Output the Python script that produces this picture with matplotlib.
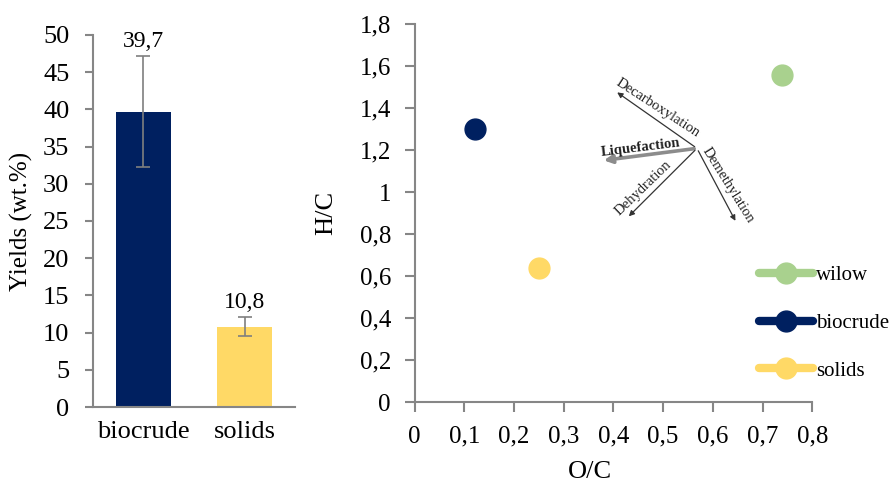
import matplotlib
matplotlib.use("Agg")
import matplotlib.pyplot as plt
from matplotlib.ticker import FuncFormatter, MultipleLocator
from matplotlib.lines import Line2D

# yields (wt.%) with standard deviation
products = ["biocrude", "solids"]
yields = [39.7, 10.8]
yield_err = [7.5, 1.3]

# van Krevelen points
samples = ["wilow", "biocrude", "solids"]
oc_ratio = [0.74, 0.121, 0.25]
hc_ratio = [1.555, 1.30, 0.64]

# reaction pathway arrows (start and end in O/C, H/C units)
path_origin = (0.568, 1.208)
path_names = ["Decarboxylation", "Liquefaction", "Dehydration", "Demethylation"]
path_ends = [(0.403, 1.482), (0.375, 1.149), (0.427, 0.875), (0.648, 0.851)]
path_text_xy = [(0.490, 1.40), (0.454, 1.21), (0.460, 1.019), (0.631, 1.033)]
path_text_rot = [-33, 7, 44, -58]

colors = {"wilow": "#A9D18E", "biocrude": "#002060", "solids": "#FFD966"}
axis_grey = "#868686"

plt.rcParams["font.family"] = ["Liberation Serif", "DejaVu Serif"]


def comma(v, pos):
    return f"{v:g}".replace(".", ",")


fig = plt.figure(figsize=(8.94, 4.84), dpi=100)

# --- yields bar chart ---
ax1 = fig.add_axes([0.104, 0.159, 0.226, 0.769])
xpos = range(len(products))
ax1.bar(xpos, yields, width=0.55, color=[colors[p] for p in products])
ax1.errorbar(xpos, yields, yerr=yield_err, fmt="none", ecolor="#7f7f7f",
             elinewidth=1.2, capsize=5, capthick=1.2)
for x, v, e in zip(xpos, yields, yield_err):
    ax1.annotate(comma(v, None), (x, v + e), xytext=(0, 3),
                 textcoords="offset points", ha="center", va="bottom", fontsize=17)
ax1.set_xlim(-0.5, 1.5)
ax1.set_ylim(0, 50)
ax1.yaxis.set_major_locator(MultipleLocator(5))
ax1.set_xticks(list(xpos))
ax1.set_xticklabels(products)
ax1.tick_params(axis="x", length=0, labelsize=19, pad=10)
ax1.tick_params(axis="y", length=6, width=1.5, color=axis_grey, labelsize=19, pad=11)
ax1.set_ylabel("Yields (wt.%)", fontsize=18)
ax1.yaxis.set_label_coords(-0.297, 0.5)
for s in ["top", "right"]:
    ax1.spines[s].set_visible(False)
for s in ["left", "bottom"]:
    ax1.spines[s].set_color(axis_grey)
    ax1.spines[s].set_linewidth(1.5)

# --- van Krevelen diagram ---
ax2 = fig.add_axes([0.4637, 0.1694, 0.4449, 0.781])
for name, ox, hy in zip(samples, oc_ratio, hc_ratio):
    ax2.plot(ox, hy, "o", ms=15, color=colors[name], zorder=3)

for name, end, txy, rot in zip(path_names, path_ends, path_text_xy, path_text_rot):
    if name == "Liquefaction":
        props = dict(arrowstyle="-|>", color="#8c8c8c", lw=2.6, mutation_scale=12)
        weight = "bold"
    else:
        props = dict(arrowstyle="-|>", color="#333333", lw=0.9, mutation_scale=8)
        weight = "normal"
    ax2.annotate("", xy=end, xytext=path_origin, arrowprops=props)
    ax2.text(txy[0], txy[1], name, rotation=rot, rotation_mode="anchor",
             ha="center", va="center", fontsize=10.5, fontweight=weight,
             color="#222222")

ax2.set_xlim(0, 0.8)
ax2.set_ylim(0, 1.8)
ax2.xaxis.set_major_locator(MultipleLocator(0.1))
ax2.yaxis.set_major_locator(MultipleLocator(0.2))
ax2.xaxis.set_major_formatter(FuncFormatter(comma))
ax2.yaxis.set_major_formatter(FuncFormatter(comma))
ax2.tick_params(length=7, width=1.5, color=axis_grey, labelsize=18, pad=10)
ax2.set_xlabel("O/C", fontsize=19)
ax2.set_ylabel("H/C", fontsize=19)
ax2.xaxis.set_label_coords(0.44, -0.155)
ax2.yaxis.set_label_coords(-0.195, 0.5)
for s in ["top", "right"]:
    ax2.spines[s].set_visible(False)
for s in ["left", "bottom"]:
    ax2.spines[s].set_color(axis_grey)
    ax2.spines[s].set_linewidth(1.5)

handles = [Line2D([], [], color=colors[n], lw=6, marker="o", ms=15,
                  solid_capstyle="round") for n in samples]
ax2.legend(handles, samples, loc="upper left", bbox_to_anchor=(0.845, 0.383),
           frameon=False, fontsize=15, handlelength=2.6, handletextpad=0.15,
           labelspacing=1.35, borderaxespad=0)

fig.savefig("out.png", dpi=100)
